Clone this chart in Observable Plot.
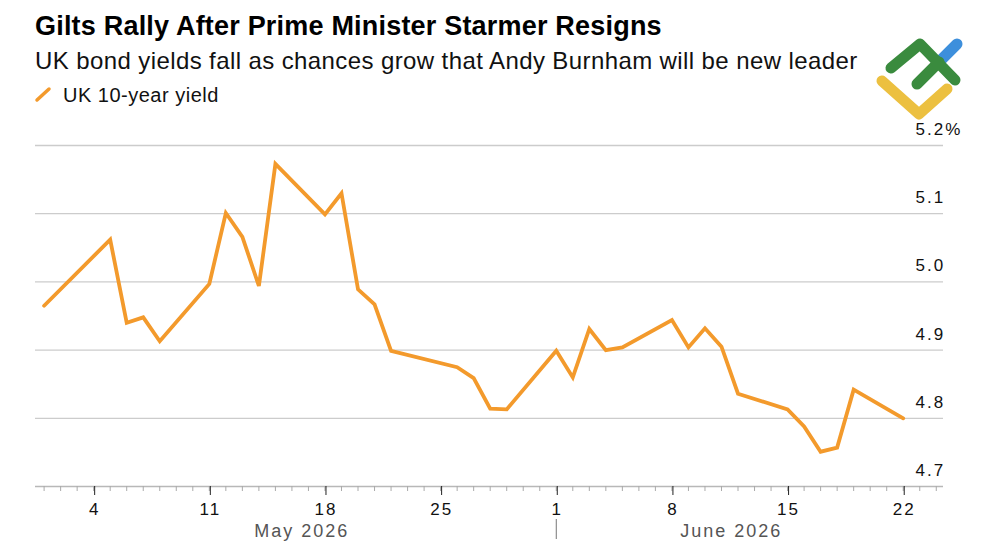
<!DOCTYPE html>
<html>
<head>
<meta charset="utf-8">
<script src="https://cdn.jsdelivr.net/npm/d3@7"></script>
<script src="https://cdn.jsdelivr.net/npm/@observablehq/plot@0.6"></script>
<style>
  body { margin: 0; background: #fff; font-family: "Liberation Sans", Arial, sans-serif; }
  #wrap { position: relative; width: 1000px; height: 545px; overflow: hidden; }
  #head, #chart svg { display: block; }
  #logo { position: absolute; left: 0; top: 0; pointer-events: none; }
</style>
</head>
<body>
<div id="wrap">
  <svg id="head" width="1000" height="110" font-family="Liberation Sans, Arial, sans-serif">
    <text id="title" x="35" y="35" font-size="27" font-weight="bold" letter-spacing="0.2" fill="#000"></text>
    <text id="subtitle" x="35" y="68.5" font-size="24" letter-spacing="0.4" fill="#111"></text>
    <line id="swatch" x1="37" y1="100" x2="49" y2="89" stroke-width="3.5" stroke-linecap="round"></line>
    <text id="legend" x="63" y="102" font-size="20" letter-spacing="0.5" fill="#111"></text>
  </svg>
  <div id="chart"></div>
  <svg id="logo" width="1000" height="545">
    <g fill="none" stroke-linecap="round" stroke-linejoin="round" stroke-width="11">
      <line x1="939" y1="62" x2="957" y2="44" stroke="#3d8fdc"></line>
      <polyline points="882,81 919,114 947,89" stroke="#ecc040"></polyline>
      <polyline points="891,68 920,44 955,80" stroke="#3a8b3e"></polyline>
      <line x1="917" y1="84" x2="939" y2="62" stroke="#3a8b3e"></line>
    </g>
  </svg>
</div>
<script>
// Headline text
const title = "Gilts Rally After Prime Minister Starmer Resigns";
const subtitle = "UK bond yields fall as chances grow that Andy Burnham will be new leader";
const seriesName = "UK 10-year yield";
const lineColor = "#f39a2c";

// UK 10-year gilt yield (%), trading days
const dates = [
  "2026-05-01", "2026-05-05", "2026-05-06", "2026-05-07", "2026-05-08",
  "2026-05-11", "2026-05-12", "2026-05-13", "2026-05-14", "2026-05-15",
  "2026-05-18", "2026-05-19", "2026-05-20", "2026-05-21", "2026-05-22",
  "2026-05-26", "2026-05-27", "2026-05-28", "2026-05-29",
  "2026-06-01", "2026-06-02", "2026-06-03", "2026-06-04", "2026-06-05",
  "2026-06-08", "2026-06-09", "2026-06-10", "2026-06-11", "2026-06-12",
  "2026-06-15", "2026-06-16", "2026-06-17", "2026-06-18", "2026-06-19",
  "2026-06-22"
];
const yields = [
  4.965, 5.062, 4.940, 4.948, 4.913,
  4.997, 5.101, 5.066, 4.994, 5.173,
  5.099, 5.130, 4.989, 4.967, 4.899,
  4.875, 4.859, 4.814, 4.813,
  4.899, 4.860, 4.931, 4.900, 4.904,
  4.944, 4.904, 4.932, 4.905, 4.836,
  4.813, 4.788, 4.751, 4.757, 4.842,
  4.800
];
const yTicks = [4.7, 4.8, 4.9, 5.0, 5.1, 5.2];
const months = ["2026-05-01", "2026-06-01"];
const monthNames = ["May 2026", "June 2026"];

document.getElementById("title").textContent = title;
document.getElementById("subtitle").textContent = subtitle;
document.getElementById("legend").textContent = seriesName;
document.getElementById("swatch").setAttribute("stroke", lineColor);

const data = dates.map((d, i) => ({date: new Date(d), value: yields[i]}));
const lastDate = data[data.length - 1].date;

const xStart = new Date("2026-04-30T11:30Z");
const xEnd = new Date("2026-06-24T10:30Z");
const days = d3.utcDay.range(d3.utcDay.ceil(xStart), xEnd);
const mondays = d3.utcMonday.range(d3.utcDay.ceil(xStart), xEnd);
const monthStarts = months.map(m => new Date(m));

// Month captions sit midway across the part of each month that has data
const monthLabels = monthStarts.map((m, i) => {
  const next = monthStarts[i + 1] ?? lastDate;
  const stop = next < lastDate ? next : lastDate;
  return {date: new Date((+m + +stop) / 2), label: monthNames[i]};
});

const chart = Plot.plot({
  width: 1000,
  height: 435,
  marginTop: 35,
  marginBottom: 59,
  marginLeft: 35,
  marginRight: 57,
  style: {fontFamily: "Liberation Sans, Arial, sans-serif", fontSize: "17px", color: "#111", background: "#fff", letterSpacing: "2px"},
  x: {type: "utc", domain: [xStart, xEnd]},
  y: {domain: [4.7, 5.2]},
  marks: [
    Plot.ruleY(yTicks.filter(t => t > 4.7), {stroke: "#cccccc", strokeWidth: 1.3}),
    Plot.ruleY([4.7], {stroke: "#b8b8b8", strokeWidth: 1.6}),
    Plot.axisY(yTicks, {
      anchor: "right", tickSize: 0, tickPadding: 0, dx: -28, dy: -16,
      textAnchor: "start", fontSize: 17, fill: "#111", label: null,
      tickFormat: d => d === 5.2 ? "5.2%" : d.toFixed(1)
    }),
    Plot.axisX(days, {anchor: "bottom", tickSize: 5, stroke: "#aaa", tickFormat: () => "", label: null}),
    Plot.axisX(mondays, {anchor: "bottom", tickSize: 9, tickPadding: 7, stroke: "#222", fill: "#111", fontSize: 17, dx: 1, tickFormat: d3.utcFormat("%-d"), label: null}),
    Plot.axisX(monthStarts.slice(1), {anchor: "bottom", tickSize: 20, dy: 33, stroke: "#777", tickFormat: () => "", label: null}),
    Plot.text(monthLabels, {x: "date", text: "label", frameAnchor: "bottom", dy: 45, dx: 1.5, fill: "#555", fontSize: 18, lineAnchor: "middle", letterSpacing: "3px"}),
    Plot.line(data, {x: "date", y: "value", stroke: lineColor, strokeWidth: 3.8, strokeLinejoin: "miter", strokeMiterlimit: 4})
  ]
});
document.getElementById("chart").append(chart);
</script>
</body>
</html>
